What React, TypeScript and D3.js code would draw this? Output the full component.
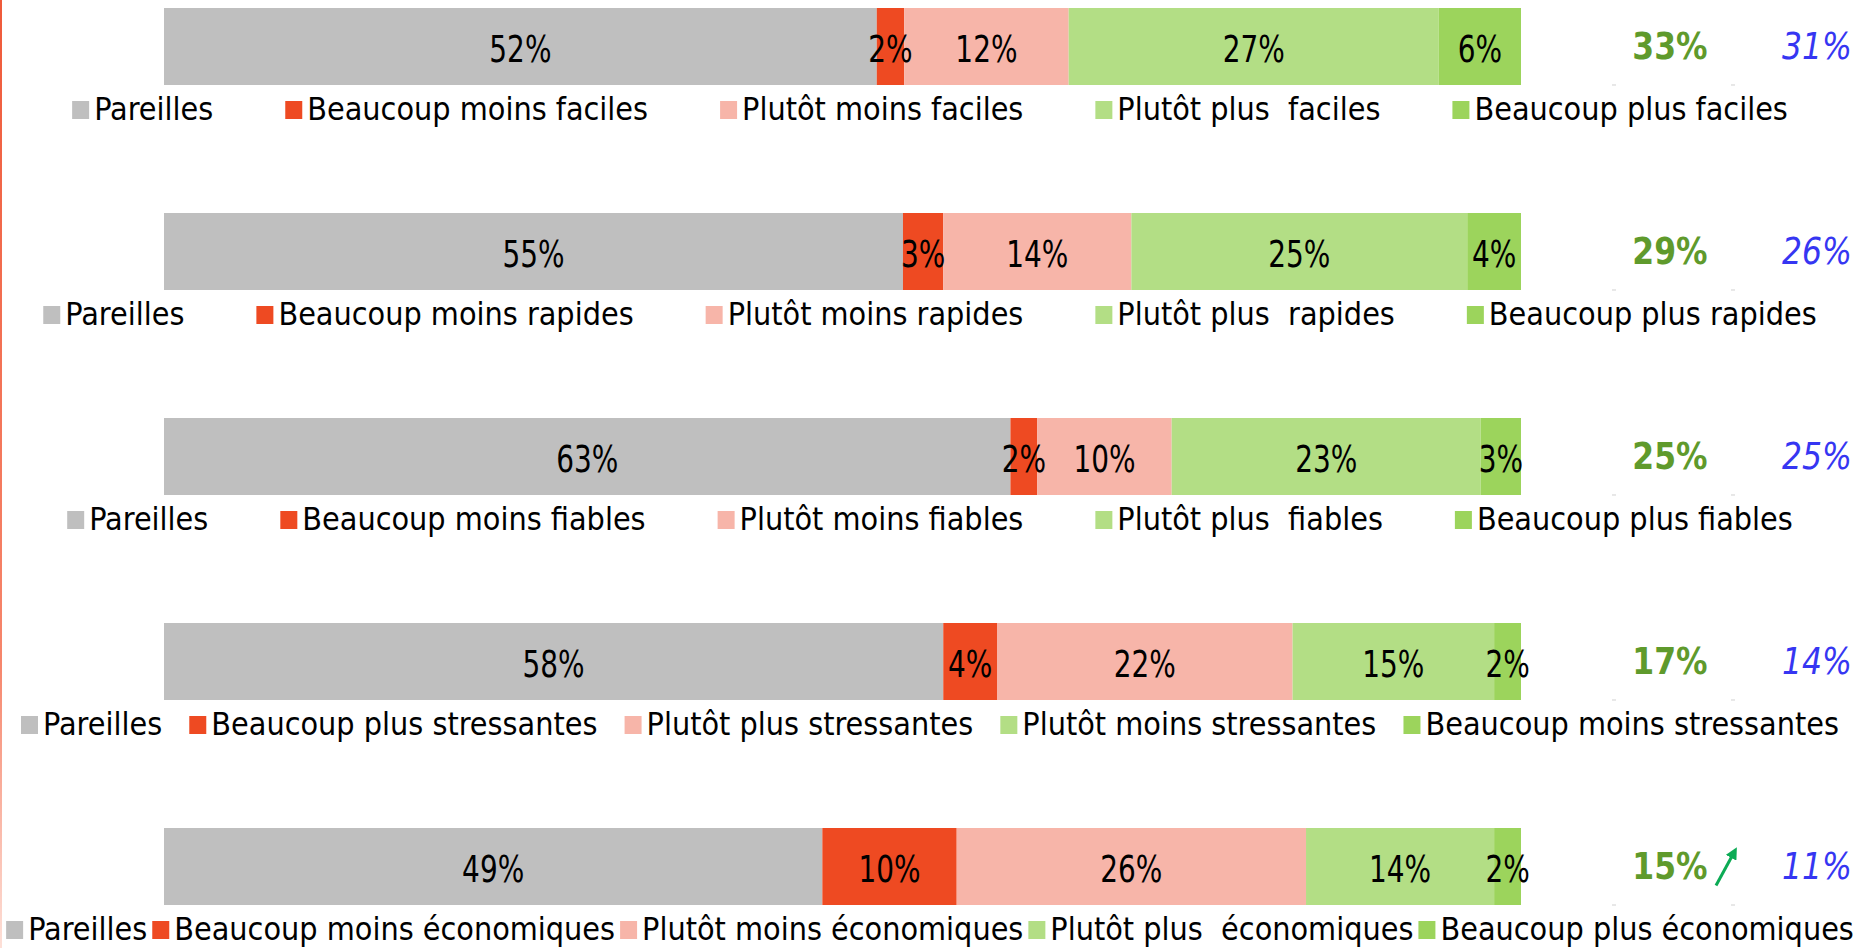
import * as d3 from "d3"

// rows of the survey, top to bottom
const rows = ["faciles", "rapides", "fiables", "stressantes", "économiques"]

// segment values (%), left to right
const pareilles = [52, 55, 63, 58, 49]
const beaucoupNeg = [2, 3, 2, 4, 10]
const plutotNeg = [12, 14, 10, 22, 26]
const plutotPos = [27, 25, 23, 15, 14]
const beaucoupPos = [6, 4, 3, 2, 2]

// right side columns
const totalPos = [33, 29, 25, 17, 15]
const previous = [31, 26, 25, 14, 11]

const legendLabels = [
  ["Pareilles", "Beaucoup moins faciles", "Plutôt moins faciles", "Plutôt plus  faciles", "Beaucoup plus faciles"],
  ["Pareilles", "Beaucoup moins rapides", "Plutôt moins rapides", "Plutôt plus  rapides", "Beaucoup plus rapides"],
  ["Pareilles", "Beaucoup moins fiables", "Plutôt moins fiables", "Plutôt plus  fiables", "Beaucoup plus fiables"],
  ["Pareilles", "Beaucoup plus stressantes", "Plutôt plus stressantes", "Plutôt moins stressantes", "Beaucoup moins stressantes"],
  ["Pareilles", "Beaucoup moins économiques", "Plutôt moins économiques", "Plutôt plus  économiques", "Beaucoup plus économiques"],
]

const colors = ["#bfbfbf", "#ee4a22", "#f7b5a9", "#b3de85", "#9cd45c"]

const W = 1863
const H = 948
const FONT = "'DejaVu Sans Condensed', 'DejaVu Sans', sans-serif"
const LEGEND_SIZE = 32

let ctx: CanvasRenderingContext2D | null = null
function textWidth(s: string) {
  if (!ctx) ctx = document.createElement("canvas").getContext("2d")
  if (!ctx) return s.length * 16
  ctx.font = `${LEGEND_SIZE}px ${FONT}`
  return ctx.measureText(s).width
}

export default function App() {
  const x = d3.scaleLinear().domain([0, 1]).range([164, 1521])
  const y = d3.scaleBand().domain(rows).range([8, 905]).paddingInner(0.6244).paddingOuter(0)
  const bw = y.bandwidth()

  const series = [pareilles, beaucoupNeg, plutotNeg, plutotPos, beaucoupPos]

  const stacked = rows.map((r, i) => {
    const vals = series.map((s) => s[i])
    const total = d3.sum(vals)
    let acc = 0
    return vals.map((v, k) => {
      const seg = { k, v, x0: acc / total, x1: (acc + v) / total }
      acc += v
      return seg
    })
  })

  // legend layout like office: centered, gap shrinks when row is too wide
  const legendMax = 1818
  const legendCenter = 930
  const legends = legendLabels.map((labels) => {
    const widths = labels.map((l) => 17 + 5 + textWidth(l))
    const sum = d3.sum(widths)
    const gap = Math.max(5, Math.min(72, (legendMax - sum) / (labels.length - 1)))
    const total = sum + gap * (labels.length - 1)
    let cx = Math.max(5, legendCenter - total / 2)
    return labels.map((l, k) => {
      const item = { l, k, x: cx }
      cx += widths[k] + gap
      return item
    })
  })

  const legendOffset = 35

  return (
    <div style={{ position: "absolute", left: 0, top: 0 }}>
      <svg width={W} height={H} style={{ display: "block", background: "#fff" }}>
        <defs>
          <linearGradient id="edge" x1="0" x2="0" y1="0" y2="1">
            <stop offset="0" stopColor="#ef5a3a" />
            <stop offset="0.7" stopColor="#f6866c" />
            <stop offset="1" stopColor="#fde0d8" />
          </linearGradient>
          <marker id="arrow" viewBox="0 0 10 10" refX="5" refY="5" markerWidth="4" markerHeight="4" orient="auto">
            <path d="M0,0 L10,5 L0,10 z" fill="#0cab55" />
          </marker>
        </defs>
        <rect x={0} y={0} width={2} height={H} fill="url(#edge)" />

        {rows.map((r, i) => {
          const top = y(r) ?? 0
          const mid = top + bw / 2
          return (
            <g key={r}>
              {stacked[i].map((s) => (
                <rect
                  key={s.k}
                  x={x(s.x0)}
                  y={top}
                  width={x(s.x1) - x(s.x0)}
                  height={bw}
                  fill={colors[s.k]}
                />
              ))}
              {stacked[i].map((s) => (
                <text
                  key={"t" + s.k}
                  transform={`translate(${(x(s.x0) + x(s.x1)) / 2},${mid + 3}) scale(0.84,1)`}
                  textAnchor="middle"
                  dominantBaseline="central"
                  fontFamily={FONT}
                  fontSize={37}
                  fill="#000"
                >
                  {s.v}%
                </text>
              ))}
              <text
                transform={`translate(1670,${mid - 1}) scale(0.92,1)`}
                textAnchor="middle"
                dominantBaseline="central"
                fontFamily={FONT}
                fontWeight="bold"
                fontSize={38}
                fill="#5f9a2c"
              >
                {totalPos[i]}%
              </text>
              <text
                transform={`translate(1817,${mid - 1}) scale(0.92,1)`}
                textAnchor="middle"
                dominantBaseline="central"
                fontFamily={FONT}
                fontStyle="italic"
                fontSize={38}
                fill="#3636f2"
              >
                {previous[i]}%
              </text>
              <line x1={1612} x2={1616} y1={top + bw} y2={top + bw} stroke="#d0d0d0" />
              <line x1={1731} x2={1735} y1={top + bw} y2={top + bw} stroke="#d0d0d0" />
              {legends[i].map((it) => (
                <g key={"l" + it.k}>
                  <rect x={it.x} y={top + bw + legendOffset - 19} width={17} height={18} fill={colors[it.k]} />
                  <text
                    x={it.x + 22}
                    y={top + bw + legendOffset}
                    fontFamily={FONT}
                    fontSize={LEGEND_SIZE}
                    fill="#000"
                    style={{ whiteSpace: "pre" }}
                  >
                    {it.l}
                  </text>
                </g>
              ))}
            </g>
          )
        })}

        {/* trend arrow next to the last total */}
        <line
          x1={1716}
          y1={(y(rows[4]) ?? 0) + bw / 2 + 19}
          x2={1734}
          y2={(y(rows[4]) ?? 0) + bw / 2 - 14}
          stroke="#0cab55"
          strokeWidth={3}
          markerEnd="url(#arrow)"
        />
      </svg>
    </div>
  )
}
